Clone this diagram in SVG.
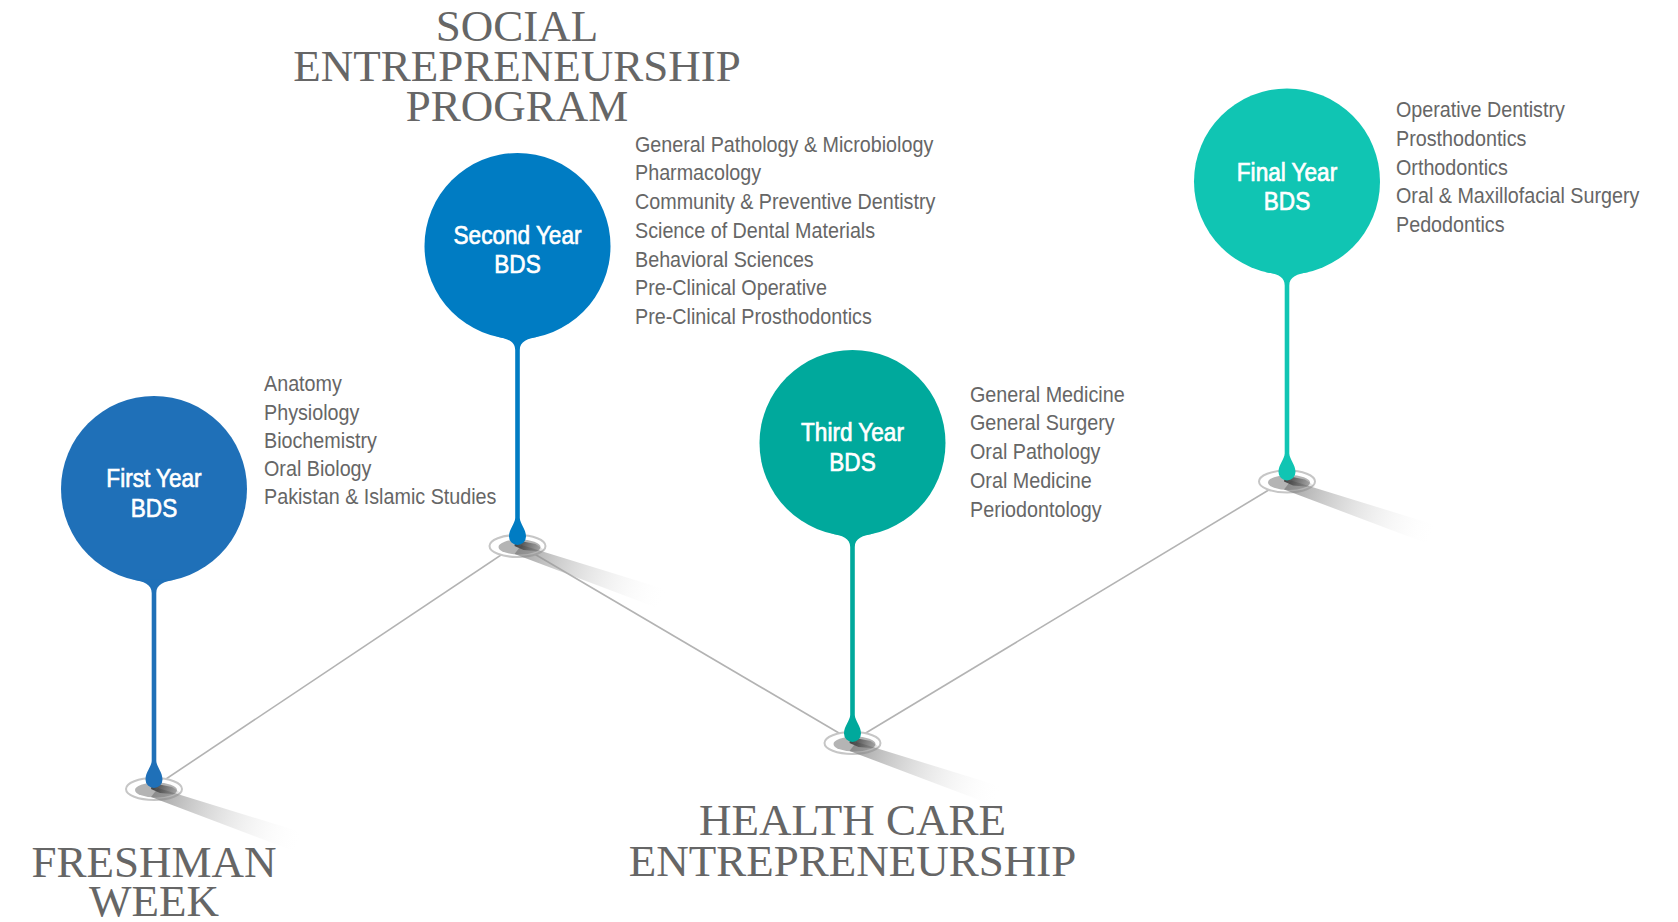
<svg xmlns="http://www.w3.org/2000/svg" xmlns:xlink="http://www.w3.org/1999/xlink" width="1678" height="922" viewBox="0 0 1678 922">
<style>
.title{font-family:"Liberation Serif","Times New Roman",serif;font-size:45px;fill:#666;text-anchor:middle}
.lbl{font-family:"Liberation Sans",Arial,sans-serif;font-size:25.5px;fill:#fff;stroke:#fff;stroke-width:0.7;text-anchor:middle}
.lst{font-family:"Liberation Sans",Arial,sans-serif;font-size:22.3px;fill:#666}
.conn{stroke:#b3b3b3;stroke-width:1.6;fill:none}
</style>
<defs>
<linearGradient id="band" gradientUnits="userSpaceOnUse" x1="0" y1="4" x2="148" y2="52">
<stop offset="0" stop-color="#7a7a7a" stop-opacity="0.7"/>
<stop offset="1" stop-color="#ffffff" stop-opacity="0"/>
</linearGradient>
<linearGradient id="dark" gradientUnits="userSpaceOnUse" x1="0" y1="298" x2="28" y2="307">
<stop offset="0" stop-color="#333" stop-opacity="0.85"/>
<stop offset="1" stop-color="#555" stop-opacity="0"/>
</linearGradient>
<g id="pin">
<ellipse cx="0" cy="300" rx="28" ry="11" fill="#fff" stroke="#c6c6c6" stroke-width="2"/>
<ellipse cx="2" cy="301" rx="21" ry="7.5" fill="#b4b4b4"/>
<g transform="translate(0,300)">
<polygon points="4,-1 150,44 140,62 -3,8" fill="url(#band)"/>
</g>
<polygon points="-2,294 18,298 30,306 6,304 -3,300" fill="url(#dark)"/>
<circle cx="0" cy="0" r="93" fill="currentColor"/>
<path d="M -22,90.4 C -10,92.5 -2.3,95 -2.3,104 L -2.3,272 C -2.6,278 -8.5,283 -8.5,290.5 A 8.5 8.5 0 0 0 8.5,290.5 C 8.5,283 2.6,278 2.3,272 L 2.3,104 C 2.3,95 10,92.5 22,90.4 Z" fill="currentColor"/>
</g>
</defs>
<rect x="0" y="0" width="1678" height="922" fill="#fff"/>
<g id="connectors">
<line class="conn" x1="154" y1="787" x2="517.5" y2="544"/>
<line class="conn" x1="517.5" y1="544" x2="852.5" y2="741"/>
<line class="conn" x1="852.5" y1="741" x2="1287" y2="479"/>
</g>
<g id="node-first">
<use xlink:href="#pin" href="#pin" transform="translate(154,489)" color="#1f70b8"/>
<g transform="translate(154,0) scale(0.885,1)">
<text class="lbl" x="0" y="487.5">First Year</text>
<text class="lbl" x="0" y="517">BDS</text>
</g>
<g transform="translate(264,0) scale(0.885,1)">
<text class="lst" x="0" y="391.5">Anatomy</text>
<text class="lst" x="0" y="419.8">Physiology</text>
<text class="lst" x="0" y="448">Biochemistry</text>
<text class="lst" x="0" y="476.3">Oral Biology</text>
<text class="lst" x="0" y="504.5">Pakistan &amp; Islamic Studies</text>
</g>
</g>
<g id="node-second">
<use xlink:href="#pin" href="#pin" transform="translate(517.5,246)" color="#007cc3"/>
<g transform="translate(517.5,0) scale(0.885,1)">
<text class="lbl" x="0" y="244">Second Year</text>
<text class="lbl" x="0" y="273">BDS</text>
</g>
<g transform="translate(635,0) scale(0.885,1)">
<text class="lst" x="0" y="151.7">General Pathology &amp; Microbiology</text>
<text class="lst" x="0" y="180.4">Pharmacology</text>
<text class="lst" x="0" y="209.2">Community &amp; Preventive Dentistry</text>
<text class="lst" x="0" y="237.9">Science of Dental Materials</text>
<text class="lst" x="0" y="266.7">Behavioral Sciences</text>
<text class="lst" x="0" y="295.4">Pre-Clinical Operative</text>
<text class="lst" x="0" y="324.2">Pre-Clinical Prosthodontics</text>
</g>
</g>
<g id="node-third">
<use xlink:href="#pin" href="#pin" transform="translate(852.5,443)" color="#00a99c"/>
<g transform="translate(852.5,0) scale(0.885,1)">
<text class="lbl" x="0" y="441.5">Third Year</text>
<text class="lbl" x="0" y="471">BDS</text>
</g>
<g transform="translate(970,0) scale(0.885,1)">
<text class="lst" x="0" y="401.7">General Medicine</text>
<text class="lst" x="0" y="430.5">General Surgery</text>
<text class="lst" x="0" y="459.3">Oral Pathology</text>
<text class="lst" x="0" y="488.1">Oral Medicine</text>
<text class="lst" x="0" y="516.9">Periodontology</text>
</g>
</g>
<g id="node-final">
<use xlink:href="#pin" href="#pin" transform="translate(1287,181.5)" color="#10c5b3"/>
<g transform="translate(1287,0) scale(0.885,1)">
<text class="lbl" x="0" y="181">Final Year</text>
<text class="lbl" x="0" y="210">BDS</text>
</g>
<g transform="translate(1396,0) scale(0.885,1)">
<text class="lst" x="0" y="117.3">Operative Dentistry</text>
<text class="lst" x="0" y="146">Prosthodontics</text>
<text class="lst" x="0" y="174.8">Orthodontics</text>
<text class="lst" x="0" y="203.5">Oral &amp; Maxillofacial Surgery</text>
<text class="lst" x="0" y="232.3">Pedodontics</text>
</g>
</g>
<g id="title-social">
<text class="title" x="517" y="40.7">SOCIAL</text>
<text class="title" x="517" y="81">ENTREPRENEURSHIP</text>
<text class="title" x="517" y="121">PROGRAM</text>
</g>
<g id="title-freshman">
<text class="title" x="154" y="877">FRESHMAN</text>
<text class="title" x="154" y="916">WEEK</text>
</g>
<g id="title-healthcare">
<text class="title" x="852.5" y="835">HEALTH CARE</text>
<text class="title" x="852.5" y="876">ENTREPRENEURSHIP</text>
</g>
</svg>
